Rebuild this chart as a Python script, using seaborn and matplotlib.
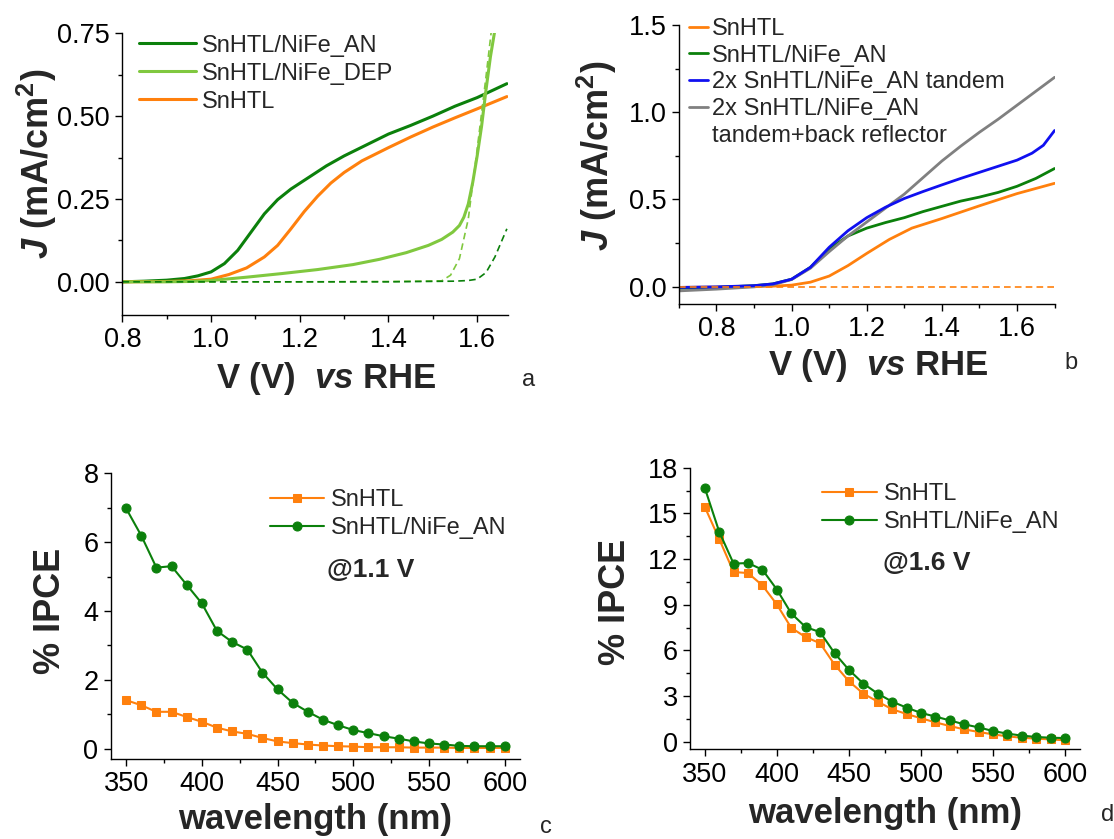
import numpy as np
import pandas as pd
import matplotlib
matplotlib.use("Agg")
import matplotlib.pyplot as plt
import seaborn as sns
from matplotlib.ticker import MultipleLocator, FormatStrFormatter
from matplotlib.lines import Line2D

# ---------------- data ----------------
# panel a : J-V curves
V_a_an = [0.80, 0.85, 0.90, 0.94, 0.97, 1.00, 1.03, 1.06, 1.09, 1.12, 1.15, 1.18, 1.22, 1.26,
          1.30, 1.35, 1.40, 1.45, 1.50, 1.55, 1.60, 1.667]
J_a_an = [0.000, 0.002, 0.005, 0.010, 0.018, 0.030, 0.055, 0.095, 0.150, 0.205, 0.248, 0.280,
          0.315, 0.350, 0.380, 0.413, 0.446, 0.472, 0.500, 0.530, 0.556, 0.598]
V_a_sn = [0.80, 0.90, 0.95, 1.00, 1.04, 1.08, 1.12, 1.15, 1.18, 1.21, 1.24, 1.27, 1.30, 1.34,
          1.40, 1.45, 1.50, 1.55, 1.60, 1.667]
J_a_sn = [0.000, 0.001, 0.003, 0.008, 0.022, 0.042, 0.075, 0.110, 0.160, 0.212, 0.258, 0.298,
          0.330, 0.365, 0.405, 0.437, 0.467, 0.495, 0.522, 0.559]
V_a_dep = [0.80, 0.90, 0.95, 1.00, 1.08, 1.16, 1.24, 1.32, 1.38, 1.44, 1.49, 1.52, 1.545, 1.56,
           1.57, 1.58, 1.59, 1.60, 1.61, 1.62, 1.63, 1.645]
J_a_dep = [0.000, 0.000, 0.001, 0.004, 0.014, 0.025, 0.037, 0.052, 0.068, 0.088, 0.110, 0.128,
           0.150, 0.170, 0.195, 0.235, 0.300, 0.380, 0.470, 0.580, 0.680, 0.800]
V_a_dep_dark = [0.80, 1.00, 1.20, 1.40, 1.52, 1.54, 1.56, 1.58, 1.60, 1.62, 1.64]
J_a_dep_dark = [0.000, 0.000, 0.000, 0.001, 0.003, 0.020, 0.070, 0.190, 0.400, 0.620, 0.850]
V_a_an_dark = [0.80, 1.00, 1.20, 1.40, 1.55, 1.58, 1.60, 1.62, 1.64, 1.667]
J_a_an_dark = [0.000, 0.000, 0.000, 0.000, 0.002, 0.004, 0.008, 0.028, 0.075, 0.160]

# panel b : J-V curves
V_b_sn = [0.70, 0.80, 0.90, 0.95, 1.00, 1.05, 1.10, 1.15, 1.20, 1.26, 1.32, 1.40, 1.50, 1.60, 1.70]
J_b_sn = [-0.005, -0.003, 0.000, 0.002, 0.008, 0.025, 0.060, 0.120, 0.190, 0.270, 0.335, 0.390,
          0.463, 0.533, 0.592]
V_b_an = [0.70, 0.80, 0.90, 0.95, 1.00, 1.05, 1.10, 1.15, 1.20, 1.25, 1.30, 1.35, 1.40, 1.45,
          1.50, 1.55, 1.60, 1.65, 1.70]
J_b_an = [-0.010, -0.005, 0.005, 0.015, 0.042, 0.110, 0.215, 0.290, 0.335, 0.367, 0.395, 0.430,
          0.460, 0.490, 0.513, 0.540, 0.575, 0.620, 0.677]
V_b_tan = [0.70, 0.80, 0.90, 0.95, 1.00, 1.05, 1.10, 1.15, 1.20, 1.25, 1.30, 1.35, 1.40, 1.45,
           1.50, 1.55, 1.60, 1.64, 1.67, 1.70]
J_b_tan = [-0.005, -0.002, 0.005, 0.015, 0.042, 0.110, 0.225, 0.320, 0.395, 0.455, 0.505, 0.545,
           0.583, 0.620, 0.655, 0.690, 0.725, 0.765, 0.810, 0.895]
V_b_ref = [0.70, 0.80, 0.90, 0.95, 1.00, 1.05, 1.10, 1.15, 1.20, 1.25, 1.30, 1.35, 1.40, 1.45,
           1.50, 1.55, 1.60, 1.65, 1.70]
J_b_ref = [-0.025, -0.015, -0.002, 0.010, 0.040, 0.105, 0.200, 0.290, 0.370, 0.450, 0.530, 0.625,
           0.720, 0.805, 0.885, 0.960, 1.040, 1.120, 1.200]
V_b_dark = [0.70, 1.00, 1.30, 1.70]
J_b_dark = [0.000, 0.000, 0.000, 0.000]

# panels c, d : IPCE spectra
wl = [350, 360, 370, 380, 390, 400, 410, 420, 430, 440, 450, 460, 470, 480, 490,
      500, 510, 520, 530, 540, 550, 560, 570, 580, 590, 600]
ipce_c_sn = [1.41, 1.26, 1.07, 1.07, 0.92, 0.78, 0.61, 0.50, 0.43, 0.31, 0.21, 0.16, 0.12,
             0.09, 0.07, 0.06, 0.04, 0.04, 0.04, 0.03, 0.03, 0.03, 0.02, 0.02, 0.02, 0.02]
ipce_c_an = [6.98, 6.19, 5.26, 5.30, 4.76, 4.22, 3.42, 3.10, 2.88, 2.21, 1.72, 1.33, 1.07,
             0.84, 0.68, 0.54, 0.45, 0.36, 0.29, 0.21, 0.15, 0.12, 0.08, 0.07, 0.07, 0.07]
ipce_d_sn = [15.43, 13.32, 11.15, 11.08, 10.27, 9.02, 7.48, 6.87, 6.47, 5.07, 3.97, 3.16, 2.63,
             2.13, 1.82, 1.54, 1.27, 1.03, 0.81, 0.64, 0.48, 0.35, 0.26, 0.20, 0.15, 0.09]
ipce_d_an = [16.68, 13.80, 11.70, 11.74, 11.30, 10.00, 8.43, 7.53, 7.20, 5.82, 4.72, 3.82, 3.16,
             2.63, 2.24, 1.89, 1.65, 1.40, 1.14, 0.94, 0.70, 0.53, 0.40, 0.31, 0.26, 0.24]

# ---------------- style ----------------
sns.set_theme(style="ticks")
plt.rcParams["font.family"] = ["Liberation Sans", "DejaVu Sans"]
plt.rcParams["mathtext.fontset"] = "custom"
plt.rcParams["mathtext.it"] = "Liberation Sans:italic:bold"
plt.rcParams["mathtext.rm"] = "Liberation Sans:bold"
plt.rcParams["mathtext.bf"] = "Liberation Sans:bold"

DKG = "#0b800b"
LTG = "#80c83f"
ORG = "#ff800d"
BLU = "#1010f0"
GRY = "#808080"

TICK_FS = 19.5
LAB_FS = 26
XLAB_FS = 25
LEG_FS = 17

fig = plt.figure(figsize=(11.14, 8.39), dpi=100)
ax_a = fig.add_axes([0.1099, 0.6246, 0.3463, 0.3357])
ax_b = fig.add_axes([0.6094, 0.6377, 0.3373, 0.3325])
ax_c = fig.add_axes([0.0996, 0.0954, 0.3671, 0.3405])
ax_d = fig.add_axes([0.6197, 0.1069, 0.3494, 0.3356])


def style_axes(ax):
    sns.despine(ax=ax)
    for s in ("left", "bottom"):
        ax.spines[s].set_color("black")
        ax.spines[s].set_linewidth(1.0)
    ax.tick_params(which="major", direction="out", length=5, width=1, color="black",
                   labelsize=TICK_FS, labelcolor="black", pad=4)
    ax.tick_params(which="minor", direction="out", length=3, width=1, color="black")
    ax.grid(False)
    ax.set_facecolor("white")


# ---------------- panel a ----------------
ax = ax_a
sns.lineplot(x=V_a_an, y=J_a_an, ax=ax, color=DKG, lw=2.2, label="SnHTL/NiFe_AN")
sns.lineplot(x=V_a_sn, y=J_a_sn, ax=ax, color=ORG, lw=2.2, label="SnHTL")
sns.lineplot(x=V_a_dep, y=J_a_dep, ax=ax, color=LTG, lw=2.2, label="SnHTL/NiFe_DEP")
sns.lineplot(x=V_a_dep_dark, y=J_a_dep_dark, ax=ax, color=LTG, lw=1.2, linestyle=(0, (4, 2.5)))
sns.lineplot(x=V_a_an_dark, y=J_a_an_dark, ax=ax, color=DKG, lw=1.2, linestyle=(0, (4, 2.5)))
ax.set_xlim(0.8, 1.67)
ax.set_ylim(-0.1, 0.75)
ax.xaxis.set_major_locator(MultipleLocator(0.2))
ax.xaxis.set_minor_locator(MultipleLocator(0.1))
ax.yaxis.set_major_locator(MultipleLocator(0.25))
ax.yaxis.set_minor_locator(MultipleLocator(0.125))
ax.xaxis.set_major_formatter(FormatStrFormatter("%.1f"))
ax.yaxis.set_major_formatter(FormatStrFormatter("%.2f"))
style_axes(ax)
h, l = ax.get_legend_handles_labels()
order = [l.index("SnHTL/NiFe_AN"), l.index("SnHTL/NiFe_DEP"), l.index("SnHTL")]
ax.legend([h[i] for i in order], [l[i] for i in order], loc="upper left",
          bbox_to_anchor=(0.044, 0.995), frameon=False, fontsize=LEG_FS, handlelength=2.4,
          handletextpad=0.25, labelspacing=0.25, borderpad=0, borderaxespad=0)
ax.set_xlabel(r"V (V)  $vs$ RHE", fontsize=XLAB_FS, fontweight="bold")
ax.set_ylabel(r"$J$ (mA/cm$^2$)", fontsize=LAB_FS, fontweight="bold")
ax.xaxis.set_label_coords(0.53, -0.16)
ax.yaxis.set_label_coords(-0.165, 0.536)

# ---------------- panel b ----------------
ax = ax_b
sns.lineplot(x=V_b_sn, y=J_b_sn, ax=ax, color=ORG, lw=2.0, label="SnHTL")
sns.lineplot(x=V_b_an, y=J_b_an, ax=ax, color=DKG, lw=2.0, label="SnHTL/NiFe_AN")
sns.lineplot(x=V_b_ref, y=J_b_ref, ax=ax, color=GRY, lw=2.0, label="2x SnHTL/NiFe_AN")
sns.lineplot(x=V_b_tan, y=J_b_tan, ax=ax, color=BLU, lw=2.0, label="2x SnHTL/NiFe_AN tandem")
sns.lineplot(x=V_b_dark, y=J_b_dark, ax=ax, color=ORG, lw=1.2, linestyle=(0, (4, 2.5)))
ax.set_xlim(0.7, 1.7)
ax.set_ylim(-0.1, 1.5)
ax.xaxis.set_major_locator(MultipleLocator(0.2))
ax.xaxis.set_minor_locator(MultipleLocator(0.1))
ax.yaxis.set_major_locator(MultipleLocator(0.5))
ax.yaxis.set_minor_locator(MultipleLocator(0.25))
ax.xaxis.set_major_formatter(FormatStrFormatter("%.1f"))
ax.yaxis.set_major_formatter(FormatStrFormatter("%.1f"))
style_axes(ax)
h, l = ax.get_legend_handles_labels()
hd = dict(zip(l, h))
blank = Line2D([], [], color="none")
ax.legend([hd["SnHTL"], hd["SnHTL/NiFe_AN"], hd["2x SnHTL/NiFe_AN tandem"],
           hd["2x SnHTL/NiFe_AN"], blank],
          ["SnHTL", "SnHTL/NiFe_AN", "2x SnHTL/NiFe_AN tandem", "2x SnHTL/NiFe_AN",
           "tandem+back reflector"],
          loc="upper left", bbox_to_anchor=(0.026, 1.025), frameon=False, fontsize=LEG_FS,
          handlelength=0.8, handletextpad=0.2, labelspacing=0.2, borderpad=0, borderaxespad=0)
ax.set_xlabel(r"V (V)  $vs$ RHE", fontsize=XLAB_FS, fontweight="bold")
ax.set_ylabel(r"$J$ (mA/cm$^2$)", fontsize=LAB_FS, fontweight="bold")
ax.xaxis.set_label_coords(0.53, -0.153)
ax.yaxis.set_label_coords(-0.16, 0.53)

# ---------------- panels c, d ----------------
def ipce_panel(ax, sn, an, ylim, ymaj, ymin, note, leg_anchor, note_xy, xlab_y, ylab_xy):
    sns.lineplot(x=wl, y=sn, ax=ax, color=ORG, lw=1.5, marker="s", markersize=6,
                 markeredgecolor=ORG, label="SnHTL")
    sns.lineplot(x=wl, y=an, ax=ax, color=DKG, lw=1.5, marker="o", markersize=6.5,
                 markeredgecolor=DKG, label="SnHTL/NiFe_AN")
    ax.set_xlim(340, 610)
    ax.set_ylim(*ylim)
    ax.xaxis.set_major_locator(MultipleLocator(50))
    ax.xaxis.set_minor_locator(MultipleLocator(25))
    ax.yaxis.set_major_locator(MultipleLocator(ymaj))
    ax.yaxis.set_minor_locator(MultipleLocator(ymin))
    style_axes(ax)
    ax.legend(loc="upper left", bbox_to_anchor=leg_anchor, frameon=False, fontsize=LEG_FS,
              handlelength=2.3, handletextpad=0.3, labelspacing=0.25, borderpad=0,
              borderaxespad=0, numpoints=1)
    ax.text(note_xy[0], note_xy[1], note, transform=ax.transAxes, fontsize=19,
            fontweight="bold", ha="left", va="center")
    ax.set_xlabel("wavelength (nm)", fontsize=XLAB_FS, fontweight="bold")
    ax.set_ylabel("% IPCE", fontsize=LAB_FS, fontweight="bold")
    ax.xaxis.set_label_coords(0.50, xlab_y)
    ax.yaxis.set_label_coords(*ylab_xy)


ipce_panel(ax_c, ipce_c_sn, ipce_c_an, (-0.3, 8), 2, 1, "@1.1 V", (0.388, 0.945),
           (0.528, 0.661), -0.155, (-0.104, 0.518))
ipce_panel(ax_d, ipce_d_sn, ipce_d_an, (-0.5, 18), 3, 1.5, "@1.6 V", (0.339, 0.945),
           (0.495, 0.66), -0.17, (-0.147, 0.524))

# panel letters
for lab, x, y in [("a", 0.4745, 0.547), ("b", 0.961, 0.567), ("c", 0.4905, 0.0147),
                  ("d", 0.9946, 0.0286)]:
    fig.text(x, y, lab, fontsize=17, ha="center", va="center")

fig.savefig("out.png", dpi=100, facecolor="white")
